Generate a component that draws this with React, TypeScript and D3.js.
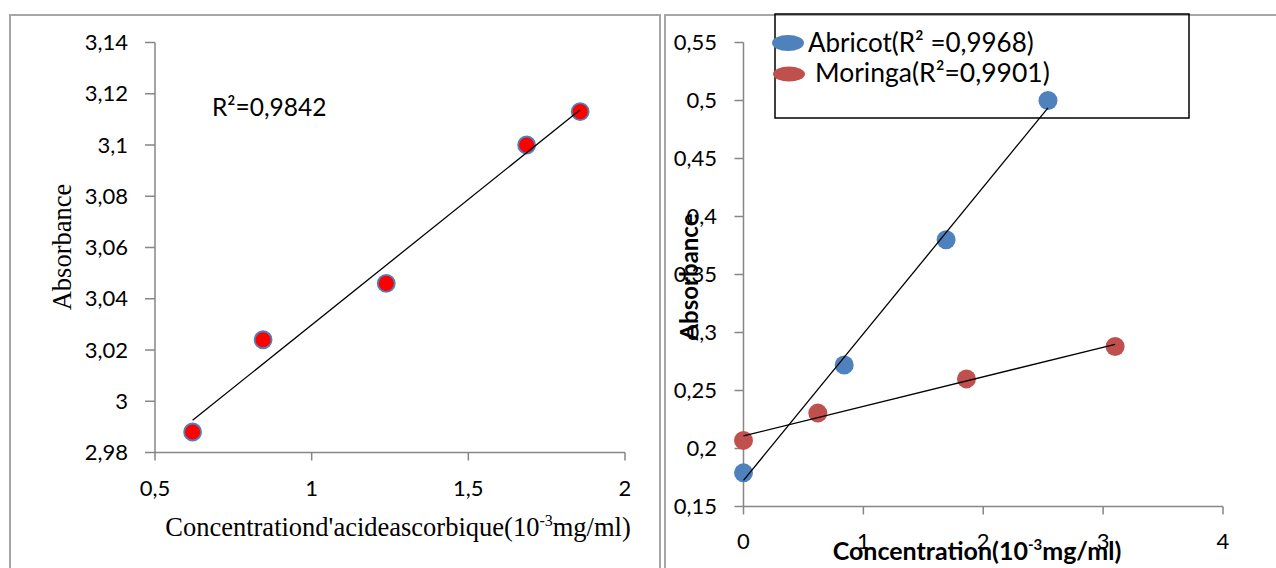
import React from "react";
import * as d3 from "d3";

// ---- Data ----
const leftConc = [0.62, 0.845, 1.238, 1.686, 1.857];
const leftAbs = [2.988, 3.024, 3.046, 3.1, 3.113];
const leftXTicks = [0.5, 1, 1.5, 2];
const leftYTicks = [2.98, 3, 3.02, 3.04, 3.06, 3.08, 3.1, 3.12, 3.14];
const leftR2 = "R²=0,9842";

const abricotConc = [0, 0.84, 1.69, 2.54];
const abricotAbs = [0.179, 0.272, 0.38, 0.5];
const moringaConc = [0, 0.62, 1.86, 3.1];
const moringaAbs = [0.207, 0.2305, 0.26, 0.288];
const rightXTicks = [0, 1, 2, 3, 4];
const rightYTicks = [0.15, 0.2, 0.25, 0.3, 0.35, 0.4, 0.45, 0.5, 0.55];
const seriesNames = ["Abricot(R² =0,9968)", "Moringa(R²=0,9901)"];

const locale = d3.formatLocale({ decimal: ",", thousands: ".", grouping: [3], currency: ["", ""] });
const fmt = locale.format("~f");

function fit(xs: number[], ys: number[]) {
  const mx = d3.mean(xs)!;
  const my = d3.mean(ys)!;
  let sxy = 0, sxx = 0;
  xs.forEach((x, i) => { sxy += (x - mx) * (ys[i] - my); sxx += (x - mx) * (x - mx); });
  const b = sxy / sxx;
  const a = my - b * mx;
  const x0 = d3.min(xs)!, x1 = d3.max(xs)!;
  return [[x0, a + b * x0], [x1, a + b * x1]] as [number, number][];
}

const AX = "#868686";
const FRAME = "#a6a6a6";
const SANS = "Lato, 'Open Sans', sans-serif";
const SERIF = "'Liberation Serif', 'DejaVu Serif', serif";

export default function App() {
  // left chart scales
  const lx = d3.scaleLinear().domain([0.5, 2]).range([155, 625]);
  const ly = d3.scaleLinear().domain([2.98, 3.14]).range([452.5, 42.5]);
  // right chart scales
  const rx = d3.scaleLinear().domain([0, 4]).range([743.5, 1223]);
  const ry = d3.scaleLinear().domain([0.15, 0.55]).range([506.5, 42.5]);

  const line = (sx: any, sy: any) => d3.line<[number, number]>().x((d) => sx(d[0])).y((d) => sy(d[1]));

  const leftFit = fit(leftConc, leftAbs);
  const abFit = fit(abricotConc, abricotAbs);
  const moFit = fit(moringaConc, moringaAbs);

  return (
    <svg width={1276} height={568} style={{ position: "absolute", left: 0, top: 0, background: "#fff" }}>
      <rect x={0} y={0} width={1276} height={568} fill="#fff" />
      {/* frames */}
      <path d="M10,575 V15 H660 V575" fill="none" stroke={FRAME} strokeWidth={2} />
      <path d="M665,575 V15 H1280" fill="none" stroke={FRAME} strokeWidth={2} />

      {/* ===== Left chart ===== */}
      <line x1={lx(0.5)} x2={lx(0.5)} y1={ly(3.14)} y2={ly(2.98)} stroke={AX} strokeWidth={1.5} />
      <line x1={lx(0.5)} x2={lx(2)} y1={ly(2.98)} y2={ly(2.98)} stroke={AX} strokeWidth={1.5} />
      {leftYTicks.map((t) => (
        <g key={"ly" + t}>
          <line x1={lx(0.5) - 10} x2={lx(0.5)} y1={ly(t)} y2={ly(t)} stroke={AX} strokeWidth={1.5} />
          <text x={128} y={ly(t)} dy="0.35em" textAnchor="end" fontFamily={SANS} fontSize={22} fill="#000">
            {fmt(t)}
          </text>
        </g>
      ))}
      {leftXTicks.map((t) => (
        <g key={"lx" + t}>
          <line x1={lx(t)} x2={lx(t)} y1={ly(2.98)} y2={ly(2.98) + 8} stroke={AX} strokeWidth={1.5} />
          <text x={lx(t)} y={488} dy="0.35em" textAnchor="middle" fontFamily={SANS} fontSize={22} fill="#000">
            {fmt(t)}
          </text>
        </g>
      ))}
      {leftConc.map((c, i) => (
        <circle key={"lp" + i} cx={lx(c)} cy={ly(leftAbs[i])} r={8.5} fill="#ff0000" stroke="#4f81bd" strokeWidth={1.8} />
      ))}
      <path d={line(lx, ly)(leftFit)!} fill="none" stroke="#000" strokeWidth={1.3} />
      <text x={212} y={116} fontFamily={SANS} fontSize={24.5} fill="#000">{leftR2}</text>
      <text transform="translate(62,247) rotate(-90)" textAnchor="middle" dy="0.35em" fontFamily={SERIF} fontSize={26.5} fill="#000">
        Absorbance
      </text>
      <text x={398} y={536} textAnchor="middle" fontFamily={SERIF} fontSize={26.5} fill="#000">
        Concentrationd'acideascorbique(10
        <tspan fontSize={16} dy={-10}>-3</tspan>
        <tspan dy={10}>mg/ml)</tspan>
      </text>

      {/* ===== Right chart ===== */}
      <rect x={775} y={14} width={414} height={104} fill="none" stroke="#000" strokeWidth={1.5} />
      <line x1={rx(0)} x2={rx(0)} y1={ry(0.55)} y2={ry(0.15)} stroke={AX} strokeWidth={1.5} />
      <line x1={rx(0)} x2={rx(4)} y1={ry(0.15)} y2={ry(0.15)} stroke={AX} strokeWidth={1.5} />
      {rightYTicks.map((t) => (
        <g key={"ry" + t}>
          <line x1={rx(0) - 9} x2={rx(0)} y1={ry(t)} y2={ry(t)} stroke={AX} strokeWidth={1.5} />
          <text x={717} y={ry(t)} dy="0.35em" textAnchor="end" fontFamily={SANS} fontSize={22} fill="#000">
            {fmt(t)}
          </text>
        </g>
      ))}
      {rightXTicks.map((t) => (
        <g key={"rx" + t}>
          <line x1={rx(t)} x2={rx(t)} y1={ry(0.15)} y2={ry(0.15) + 8} stroke={AX} strokeWidth={1.5} />
          <text x={rx(t)} y={541} dy="0.35em" textAnchor="middle" fontFamily={SANS} fontSize={22} fill="#000">
            {fmt(t)}
          </text>
        </g>
      ))}
      {abricotConc.map((c, i) => (
        <circle key={"ab" + i} cx={rx(c)} cy={ry(abricotAbs[i])} r={9.5} fill="#4f81bd" />
      ))}
      {moringaConc.map((c, i) => (
        <circle key={"mo" + i} cx={rx(c)} cy={ry(moringaAbs[i])} r={9.5} fill="#c0504d" />
      ))}
      <path d={line(rx, ry)(abFit)!} fill="none" stroke="#000" strokeWidth={1.3} />
      <path d={line(rx, ry)(moFit)!} fill="none" stroke="#000" strokeWidth={1.3} />

      {/* legend */}
      <ellipse cx={788} cy={43} rx={16} ry={8} fill="#4f81bd" />
      <text x={808} y={52} fontFamily={SANS} fontSize={26} fill="#000">{seriesNames[0]}</text>
      <ellipse cx={789} cy={74} rx={16} ry={7.5} fill="#c0504d" />
      <text x={815} y={82} fontFamily={SANS} fontSize={26.5} fill="#000">{seriesNames[1]}</text>

      <text transform="translate(690,277) rotate(-90)" textAnchor="middle" dy="0.35em" fontFamily={SANS} fontWeight="bold" fontSize={24} fill="#000">
        Absorbance
      </text>
      <text x={977} y={560} textAnchor="middle" fontFamily={SANS} fontWeight="bold" fontSize={25} fill="#000">
        Concentration(10
        <tspan fontSize={15} dy={-10}>-3</tspan>
        <tspan dy={10}>mg/ml)</tspan>
      </text>
    </svg>
  );
}
